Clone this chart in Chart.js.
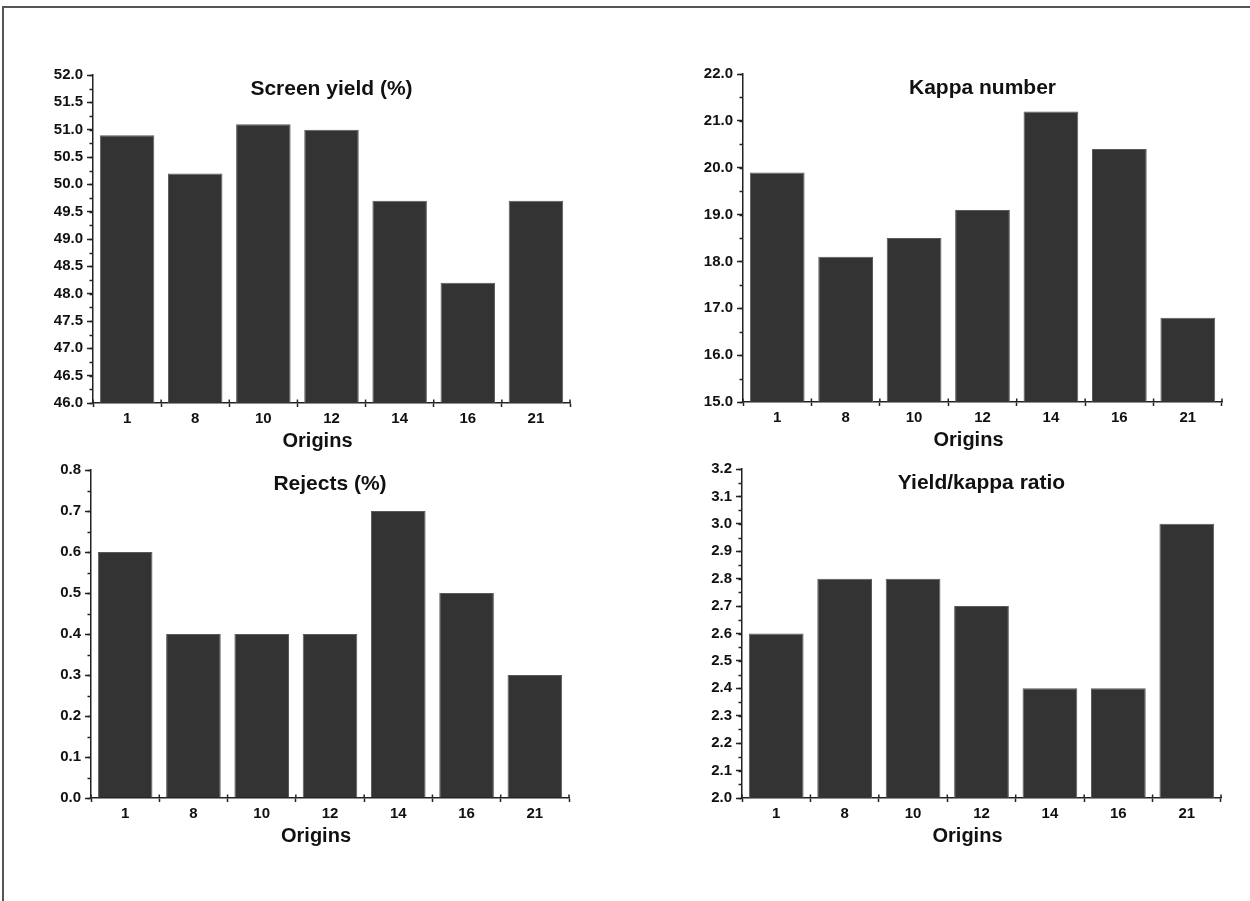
<!DOCTYPE html>
<html>
<head>
<meta charset="utf-8">
<script src="https://cdn.jsdelivr.net/npm/chart.js@4"></script>
<style>
  body { margin: 0; background: #fff; width: 1250px; height: 901px; overflow: hidden; position: relative; }
  .frame { position: absolute; left: 2px; top: 6px; width: 1400px; height: 1000px;
           border-top: 2px solid #555; border-left: 2px solid #555; }
  canvas { position: absolute; }
</style>
</head>
<body>
<div class="frame"></div>
<canvas id="c1"></canvas>
<canvas id="c2"></canvas>
<canvas id="c3"></canvas>
<canvas id="c4"></canvas>
<script>
// ----------------------------
// DATA
// ----------------------------
const origins = ["1", "8", "10", "12", "14", "16", "21"];
const screenYield = [50.9, 50.2, 51.1, 51.0, 49.7, 48.2, 49.7];
const kappaNumber = [19.9, 18.1, 18.5, 19.1, 21.2, 20.4, 16.8];
const rejects = [0.6, 0.4, 0.4, 0.4, 0.7, 0.5, 0.3];
const yieldKappa = [2.6, 2.8, 2.8, 2.7, 2.4, 2.4, 3.0];

const titles = ["Screen yield (%)", "Kappa number", "Rejects (%)", "Yield/kappa ratio"];
const xTitle = "Origins";

// ----------------------------
// LAYOUT / STYLE
// ----------------------------
const Y_AXIS_W = 80;
const X_AXIS_H = 52;
const PAD_TOP = 14;
const PAD_RIGHT = 10;
const FONT = "'Liberation Sans', Arial, sans-serif";
const AXIS_COLOR = "#222";
const BAR_COLOR = "#333333";

// minor ticks on y + upward half of the category ticks
const tickMarks = {
  id: "tickMarks",
  afterDraw(chart) {
    const ctx = chart.ctx;
    const x = chart.scales.x;
    const y = chart.scales.y;
    const minor = chart.options.plugins.tickMarks.minor;
    ctx.save();
    ctx.strokeStyle = AXIS_COLOR;
    ctx.lineWidth = 1.5;

    const steps = Math.round((y.max - y.min) / minor);
    for (let i = 0; i <= steps; i++) {
      const py = Math.round(y.getPixelForValue(y.min + i * minor)) + 0.5;
      ctx.beginPath();
      ctx.moveTo(y.right - 3.5, py);
      ctx.lineTo(y.right, py);
      ctx.stroke();
    }

    const n = chart.data.labels.length;
    const half = (x.getPixelForValue(1) - x.getPixelForValue(0)) / 2;
    for (let i = 0; i <= n; i++) {
      const px = i < n ? x.getPixelForValue(i) - half : x.getPixelForValue(n - 1) + half;
      ctx.beginPath();
      ctx.moveTo(px, x.top - 3.5);
      ctx.lineTo(px, x.top);
      ctx.stroke();
    }
    ctx.restore();
  }
};

// panel title inside the plot area, x title a bit left of centre (as in the original)
const panelTitle = {
  id: "panelTitle",
  afterDraw(chart) {
    const { ctx, chartArea } = chart;
    const text = chart.options.plugins.panelTitle.text;
    const cx = (chartArea.left + chartArea.right) / 2;
    ctx.save();
    ctx.fillStyle = "#111";
    ctx.textAlign = "center";
    ctx.textBaseline = "middle";
    ctx.font = `bold 21px ${FONT}`;
    ctx.fillText(text, cx, chartArea.top + 14);
    ctx.font = `bold 20px ${FONT}`;
    ctx.fillText(xTitle, cx - 14, chartArea.bottom + 38);
    ctx.restore();
  }
};

// ----------------------------
// PANEL BUILDER
// ----------------------------
function makePanel(id, area, values, title, yScale) {
  const canvas = document.getElementById(id);
  const w = area.right - area.left + Y_AXIS_W + PAD_RIGHT;
  const h = area.bottom - area.top + PAD_TOP + X_AXIS_H;
  canvas.width = w;
  canvas.height = h;
  canvas.style.left = (area.left - Y_AXIS_W) + "px";
  canvas.style.top = (area.top - PAD_TOP) + "px";
  canvas.style.width = w + "px";
  canvas.style.height = h + "px";

  return new Chart(canvas, {
    type: "bar",
    data: {
      labels: origins,
      datasets: [{
        data: values,
        backgroundColor: BAR_COLOR,
        borderColor: "#5a5a5a",
        borderWidth: 1,
        barPercentage: 0.8,
        categoryPercentage: 1.0
      }]
    },
    options: {
      responsive: false,
      animation: false,
      devicePixelRatio: 1,
      layout: { padding: { left: 0, top: PAD_TOP, right: PAD_RIGHT, bottom: 0 } },
      plugins: {
        legend: { display: false },
        tooltip: { enabled: false },
        panelTitle: { text: title },
        tickMarks: { minor: yScale.minor }
      },
      scales: {
        x: {
          offset: true,
          grid: {
            offset: true,
            drawOnChartArea: false,
            drawTicks: true,
            tickLength: 4,
            tickWidth: 1.5,
            tickColor: AXIS_COLOR
          },
          border: { display: true, color: AXIS_COLOR, width: 1.5 },
          ticks: {
            color: "#111",
            padding: 3,
            maxRotation: 0,
            font: { family: FONT, size: 15, weight: "bold" }
          },
          afterFit(scale) {
            scale.height = X_AXIS_H;
            scale.paddingLeft = 0;
            scale.paddingRight = 0;
          }
        },
        y: {
          min: yScale.min,
          max: yScale.max,
          grid: {
            drawOnChartArea: false,
            drawTicks: true,
            tickLength: 6,
            tickWidth: 1.5,
            tickColor: AXIS_COLOR
          },
          border: { display: true, color: AXIS_COLOR, width: 1.5 },
          ticks: {
            stepSize: yScale.step,
            padding: 4,
            color: "#111",
            font: { family: FONT, size: 15, weight: "bold" },
            callback: (v) => Number(v).toFixed(1)
          },
          afterFit(scale) {
            scale.width = Y_AXIS_W;
            scale.paddingTop = 0;
            scale.paddingBottom = 0;
          }
        }
      }
    },
    plugins: [tickMarks, panelTitle]
  });
}

makePanel("c1", { left: 93, right: 570, top: 75, bottom: 403 }, screenYield, titles[0],
  { min: 46, max: 52, step: 0.5, minor: 0.25 });
makePanel("c2", { left: 743, right: 1222, top: 74, bottom: 402 }, kappaNumber, titles[1],
  { min: 15, max: 22, step: 1, minor: 0.5 });
makePanel("c3", { left: 91, right: 569, top: 470, bottom: 798 }, rejects, titles[2],
  { min: 0, max: 0.8, step: 0.1, minor: 0.05 });
makePanel("c4", { left: 742, right: 1221, top: 469, bottom: 798 }, yieldKappa, titles[3],
  { min: 2.0, max: 3.2, step: 0.1, minor: 0.05 });
</script>
</body>
</html>
